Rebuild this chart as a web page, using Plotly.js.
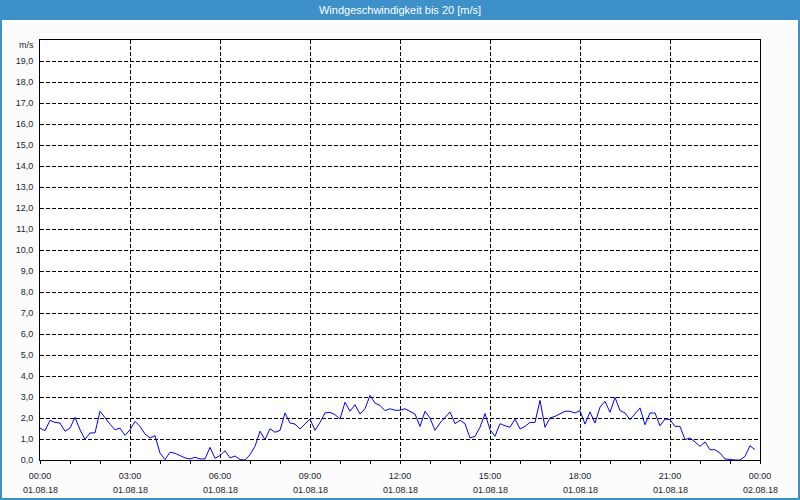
<!DOCTYPE html>
<html>
<head>
<meta charset="utf-8">
<script src="https://cdn.plot.ly/plotly-3.0.1.min.js"></script>
<style>html,body{margin:0;padding:0;background:#fbfcfb;}#chart{width:800px;height:500px;}</style>
</head>
<body>
<div id="chart"></div>
<script>
// Wind speed every 10 minutes on 01.08.18 (m/s)
const startTime = '2018-08-01T00:00:00';
const stepMinutes = 10;
const windSpeed = [
  1.52, 1.40, 1.89, 1.79, 1.76, 1.37, 1.52, 2.03, 1.44, 0.98,
  1.29, 1.29, 2.32, 2.00, 1.71, 1.44, 1.52, 1.17, 1.44, 1.84,
  1.60, 1.24, 1.05, 1.16, 0.33, 0.02, 0.37, 0.32, 0.21, 0.10,
  0.05, 0.13, 0.05, 0.05, 0.60, 0.08, 0.21, 0.44, 0.10, 0.19,
  0.02, 0.00, 0.25, 0.65, 1.37, 0.97, 1.49, 1.32, 1.41, 2.24,
  1.76, 1.71, 1.48, 1.71, 1.95, 1.41, 1.79, 2.24, 2.27, 2.16,
  1.95, 2.75, 2.32, 2.63, 2.19, 2.44, 3.08, 2.71, 2.60, 2.35,
  2.44, 2.37, 2.37, 2.44, 2.32, 2.19, 1.60, 2.32, 2.00, 1.41,
  1.76, 2.03, 2.29, 1.73, 1.89, 1.73, 1.05, 1.13, 1.56, 2.21,
  1.44, 1.13, 1.73, 1.63, 1.56, 1.95, 1.48, 1.60, 1.79, 1.79,
  2.84, 1.56, 2.00, 2.08, 2.19, 2.32, 2.32, 2.24, 2.35, 1.71,
  2.29, 1.76, 2.52, 2.79, 2.27, 2.98, 2.35, 2.24, 1.92, 2.19,
  2.48, 1.68, 2.24, 2.24, 1.63, 1.95, 1.92, 1.60, 1.60, 0.97,
  1.05, 0.86, 0.65, 0.86, 0.49, 0.49, 0.33, 0.05, 0.02, 0.00,
  0.00, 0.17, 0.68, 0.49
];
const xTickVals = ['2018-08-01 00:00','2018-08-01 03:00','2018-08-01 06:00','2018-08-01 09:00','2018-08-01 12:00','2018-08-01 15:00','2018-08-01 18:00','2018-08-01 21:00','2018-08-02 00:00'];
const xTickTime = ['00:00','03:00','06:00','09:00','12:00','15:00','18:00','21:00','00:00'];
const xTickDate = ['01.08.18','01.08.18','01.08.18','01.08.18','01.08.18','01.08.18','01.08.18','01.08.18','02.08.18'];
const yTickVals = [0,1,2,3,4,5,6,7,8,9,10,11,12,13,14,15,16,17,18,19];
const yTickText = ['0,0','1,0','2,0','3,0','4,0','5,0','6,0','7,0','8,0','9,0','10,0','11,0','12,0','13,0','14,0','15,0','16,0','17,0','18,0','19,0'];
const chartTitle = 'Windgeschwindigkeit bis 20 [m/s]';
const unitLabel = 'm/s';

function pad(n){return (n<10?'0':'')+n;}
const t0 = new Date(startTime+'Z').getTime();
const times = windSpeed.map((_, i) => {
  const d = new Date(t0 + i*stepMinutes*60000);
  return d.getUTCFullYear()+'-'+pad(d.getUTCMonth()+1)+'-'+pad(d.getUTCDate())+' '+pad(d.getUTCHours())+':'+pad(d.getUTCMinutes());
});

const W=800,H=500,L=40,R=40,T=40,B=40;
const pw=W-L-R, ph=H-T-B;
const px = v => (v-L)/pw;
const py = v => (H-B-v)/ph;
const font = 'Liberation Sans, Arial, sans-serif';
const txtColor = '#1c1c2c';
const blue = '#3c91c8';

const annotations = xTickVals.map((v,i)=>({
  x: v, xref:'x', y: py(490), yref:'paper', text: xTickDate[i], showarrow:false,
  xanchor:'center', yanchor:'middle', font:{family:font,size:9,color:txtColor}
}));
annotations.push({x: px(36), xref:'paper', y: py(45), yref:'paper', text: unitLabel, showarrow:false,
  xanchor:'right', yanchor:'middle', font:{family:font,size:9,color:txtColor}});

const layout = {
  width:W, height:H,
  margin:{l:L,r:R,t:T,b:B,pad:0},
  paper_bgcolor:'#fbfcfb', plot_bgcolor:'#ffffff',
  showlegend:false,
  title:{text:chartTitle, font:{family:font,size:11,color:'#ffffff'}, x:0.5, xanchor:'center', y:1-10/H, yref:'container', yanchor:'middle'},
  xaxis:{type:'date', range:['2018-08-01 00:00','2018-08-02 00:00'], tickvals:xTickVals, ticktext:xTickTime,
    showgrid:true, gridcolor:'#000000', griddash:'4px,2px', gridwidth:1,
    showline:true, linecolor:'#000000', linewidth:1, mirror:true,
    ticks:'outside', ticklen:3, tickcolor:'#000000', ticklabelstandoff:4,
    minor:{dtick:3600000, ticks:'outside', ticklen:3, tickcolor:'#000000', showgrid:false},
    tickfont:{family:font,size:9,color:txtColor}, zeroline:false, fixedrange:true},
  yaxis:{range:[0,20], tickvals:yTickVals, ticktext:yTickText,
    showgrid:true, gridcolor:'#000000', griddash:'4px,2px', gridwidth:1,
    showline:true, linecolor:'#000000', linewidth:1, mirror:true,
    ticks:'', ticklabelstandoff:4, zeroline:false,
    tickfont:{family:font,size:9,color:txtColor}, fixedrange:true},
  shapes:[
    {type:'rect', xref:'paper', yref:'paper', x0:px(0), x1:px(800), y0:py(20), y1:py(0), fillcolor:blue, line:{width:0}, layer:'below'},
    {type:'rect', xref:'paper', yref:'paper', x0:px(1), x1:px(799), y0:py(499), y1:py(1), fillcolor:'rgba(0,0,0,0)', line:{color:blue,width:2}}
  ],
  annotations: annotations
};

Plotly.newPlot('chart', [{
  x: times, y: windSpeed, type:'scatter', mode:'lines',
  line:{color:'#0000ff', width:1}, hoverinfo:'skip'
}], layout, {staticPlot:true, displayModeBar:false});
</script>
</body>
</html>
